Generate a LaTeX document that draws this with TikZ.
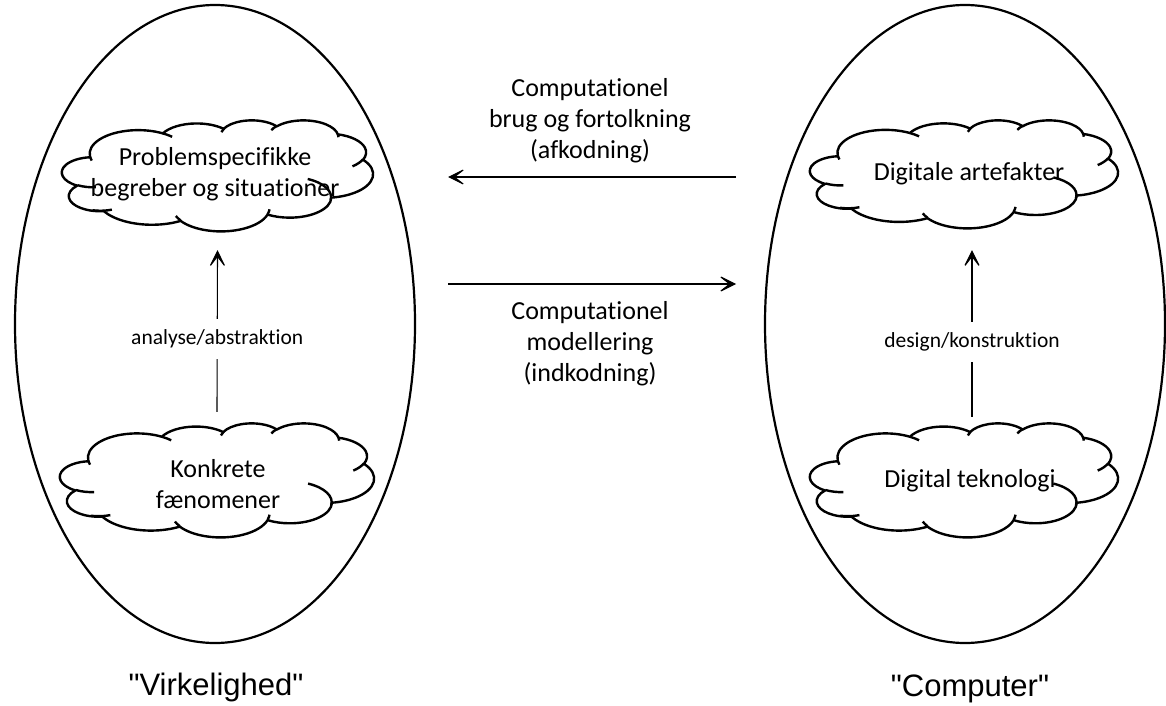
\documentclass[tikz,border=0pt]{standalone}
\usepackage{fontspec}
\setmainfont{Carlito}[Ligatures={NoCommon}]
\newfontfamily\captionface{Liberation Sans}
\usetikzlibrary{arrows.meta,shapes.geometric}

% One lobe of a cloud outline: an elliptical arc given by its radii and by
% its start and sweep angles, both measured as directions from the centre.
\newcommand\lobe[4]{arc[x radius=#1, y radius=#2,
  start angle={#3+Mod(atan2(#1*sin(#3),#2*cos(#3))-(#3)+180,360)-180},
  end angle={#3+#4+Mod(atan2(#1*sin(#3+#4),#2*cos(#3+#4))-(#3+#4)+180,360)-180}]}

% Cloud in a 43.2 x 43.2 unit box: #1 name, #2 left, #3 top, #4 width, #5 height
\newcommand\cloudshape[5]{%
  \pgfmathsetmacro\cloudxu{#4/43.2}%
  \pgfmathsetmacro\cloudyu{#5/43.2}%
  \begin{scope}[shift={(#2,#3)}, x=\cloudxu pt, y=-\cloudyu pt]
    \filldraw[cloudline] (3.9,14.37)
      \lobe{6.753}{9.19}{-190.4875}{123.7805}
      \lobe{5.333}{7.267}{-144.1024}{89.9452}
      \lobe{4.365}{5.945}{-145.8079}{99.723}
      \lobe{4.857}{6.595}{-130.9861}{117.2417}
      \lobe{5.333}{7.273}{-78.7089}{109.0269}
      \lobe{6.775}{9.22}{-46.2673}{130.269}
      \lobe{5.785}{7.867}{0.625}{114.0333}
      \lobe{6.752}{9.215}{22.4516}{115.1726}
      \lobe{7.72}{10.543}{66.2426}{75.711}
      \lobe{4.36}{5.918}{-274.9421}{146.7356}
      \lobe{4.345}{5.945}{-246.8285}{152.5189} -- cycle;
    \draw[cloudline, fill=none]
      (4.693,26.177) \lobe{4.345}{5.945}{86.742}{26.4295}
      (6.928,34.899) \lobe{4.36}{5.918}{73.6105}{27.0745}
      (16.478,39.09) \lobe{6.752}{9.215}{137.6242}{14.0811}
      (28.827,34.751) \lobe{6.752}{9.215}{6.4533}{15.9984}
      (34.129,22.954) \lobe{5.785}{7.867}{-70.2924}{81.5787}
      (41.798,15.354) \lobe{5.333}{7.273}{30.318}{27.7515}
      (38.324,5.426) \lobe{4.857}{6.595}{-13.7443}{14.8589}
      (29.078,3.952) \lobe{4.857}{6.595}{-149.1815}{18.1954}
      (22.141,4.72) \lobe{4.365}{5.945}{-163.4943}{17.9221}
      (14.0,5.192) \lobe{6.753}{9.19}{-66.707}{12.3194}
      (4.127,15.789) \lobe{6.753}{9.19}{157.6544}{11.8582};
  \end{scope}
  \node[inner sep=0pt, minimum width=#4pt, minimum height=#5pt]
    (#1) at ({#2+#4/2},{#3+#5/2}) {};%
}

\begin{document}
\begin{tikzpicture}[x=1pt, y=-1pt,
  boundary/.style={draw, ellipse, line width=2.2pt, inner sep=0pt,
    minimum width=400pt, minimum height=638pt},
  cloudline/.style={line width=2.4pt, line join=round, fill=white},
  cloudtext/.style={align=center, inner sep=0pt,
    font=\fontsize{26}{31}\selectfont},
  steplabel/.style={fill=white, inner xsep=3pt, inner ysep=11pt,
    font=\fontsize{21.5}{26}\selectfont},
  sidecaption/.style={inner sep=0pt, font=\captionface\fontsize{31}{37}\selectfont},
  flow/.style={line width=1.1pt,
    -{Stealth[length=20pt, width=20pt, inset=13pt]}}]

  \fill[white] (0,0) rectangle (1166,706);
  \useasboundingbox (0,0) rectangle (1166,706);

  % the two worlds
  \node[boundary] (reality) at (215,324) {};
  \node[boundary] (computer) at (965,324) {};

  % clouds
  \cloudshape{upleft}{62}{120}{311}{111}
  \cloudshape{lowleft}{60}{423}{314}{114}
  \cloudshape{upright}{810}{120}{308}{108}
  \cloudshape{lowright}{810}{423}{308}{114}

  \node[cloudtext] (probtext) at (215,174) {Problemspecifikke\\begreber og situationer};
  \node[cloudtext] (konktext) at (218,484) {Konkrete\\fænomener};
  \node[cloudtext] (arttext) at (969,174) {Digitale artefakter};
  \node[cloudtext] (tektext) at (970,481) {Digital teknologi};

  % vertical steps inside each world
  \draw[flow] ([yshift=11pt]lowleft.north) --
    node[steplabel, pos=0.45] (analysis) {analyse/abstraktion}
    ([yshift=-19pt]upleft.south);
  \draw[flow] ([xshift=8pt, yshift=6pt]lowright.north) --
    node[steplabel, pos=0.449] (design) {design/konstruktion}
    ([xshift=8pt, yshift=-22pt]upright.south);

  % translation between the worlds
  \coordinate (decodefrom) at (736,177);
  \coordinate (decodeto) at (448,177);
  \coordinate (encodefrom) at (448,284);
  \coordinate (encodeto) at (736,284);
  \draw[flow] (decodefrom) -- (decodeto);
  \draw[flow] (encodefrom) -- (encodeto);

  \node[cloudtext] (decodetext) at (590,121)
    {Computationel\\brug og fortolkning\\(afkodning)};
  \node[cloudtext] (encodetext) at (590,344)
    {Computationel\\modellering\\(indkodning)};

  % captions
  \node[sidecaption] (realcap) at (216,687) {"Virkelighed"};
  \node[sidecaption] (compcap) at (970,689) {"Computer"};
\end{tikzpicture}
\end{document}
